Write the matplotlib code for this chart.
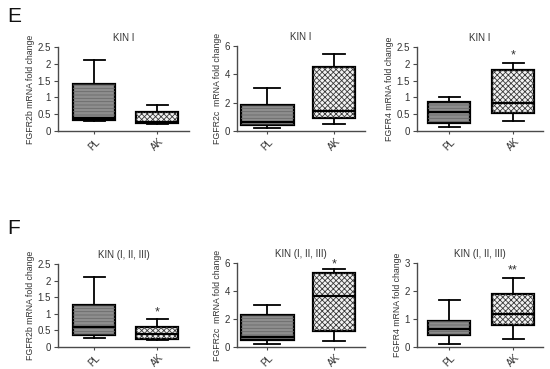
import matplotlib
matplotlib.use("Agg")
import matplotlib.pyplot as plt
from matplotlib.patches import PathPatch

plt.rcParams['font.family'] = ['Liberation Sans', 'DejaVu Sans']
plt.rcParams['hatch.linewidth'] = 0.6

groups = ["PL", "AK"]
titles = ["KIN I", "KIN I", "KIN I", "KIN (I, II, III)", "KIN (I, II, III)", "KIN (I, II, III)"]
ylabels = ["FGFR2b mRNA fold change", "FGFR2c  mRNA fold change", "FGFR4 mRNA fold change",
           "FGFR2b mRNA fold change", "FGFR2c  mRNA fold change", "FGFR4 mRNA fold change"]
ymax = [2.5, 6, 2.5, 2.5, 6, 3]
yticks = [[0, 0.5, 1, 1.5, 2, 2.5], [0, 2, 4, 6], [0, 0.5, 1, 1.5, 2, 2.5],
          [0, 0.5, 1, 1.5, 2, 2.5], [0, 2, 4, 6], [0, 1, 2, 3]]
yticklabels = [["0", "0.5", "1", "1.5", "2", "2.5"], ["0", "2", "4", "6"],
               ["0", "0.5", "1", "1.5", "2", "2.5"], ["0", "0.5", "1", "1.5", "2", "2.5"],
               ["0", "2", "4", "6"], ["0", "1", "2", "3"]]

# five-number summaries: min, q1, median, q3, max  (PL, AK)
pl_stats = [
    [0.30, 0.34, 0.38, 1.40, 2.12],
    [0.23, 0.42, 0.66, 1.83, 3.01],
    [0.13, 0.25, 0.56, 0.86, 1.02],
    [0.28, 0.35, 0.60, 1.26, 2.11],
    [0.19, 0.53, 0.72, 2.28, 3.00],
    [0.11, 0.42, 0.63, 0.94, 1.68],
]
ak_stats = [
    [0.22, 0.25, 0.28, 0.56, 0.76],
    [0.47, 0.94, 1.41, 4.54, 5.41],
    [0.31, 0.55, 0.82, 1.82, 2.03],
    [0.21, 0.25, 0.38, 0.60, 0.85],
    [0.43, 1.15, 3.65, 5.32, 5.57],
    [0.29, 0.78, 1.17, 1.91, 2.46],
]
signif = ["", "", "*", "*", "*", "**"]
signif_y = [0, 0, 2.24, 1.04, 5.9, 2.74]

# layout (figure pixels)
W, H = 550, 369
axes_px = [  # left, right, bottom(y=0), top
    (58, 189, 131, 47), (237, 365, 131, 46), (417, 543, 131, 47),
    (58, 189, 347, 264), (237, 365, 347, 263), (417, 543, 347, 263),
]
centers_px = [(94, 157), (267, 334), (449, 513), (94, 157), (267, 334), (449, 513)]
boxw_px = [(42, 42), (53, 43), (42, 42), (42, 42), (53, 43), (42, 42)]

fig = plt.figure(figsize=(W / 100, H / 100), dpi=100)

spine_c = '#4a4a4a'
for i in range(6):
    l, r, b, t = axes_px[i]
    ax = fig.add_axes([l / W, 1 - b / H, (r - l) / W, (b - t) / H])
    c0, c1 = centers_px[i]
    unit = c1 - c0
    ax.set_xlim((l - c0) / unit, (r - c0) / unit)
    ax.set_ylim(0, ymax[i])
    stats = []
    for s, lab in zip((pl_stats[i], ak_stats[i]), groups):
        stats.append(dict(whislo=s[0], q1=s[1], med=s[2], q3=s[3], whishi=s[4], label=lab))
    widths = [boxw_px[i][0] / unit, boxw_px[i][1] / unit]
    bp = ax.bxp(stats, positions=[0, 1], widths=widths, patch_artist=True, showfliers=False,
                boxprops=dict(linewidth=1.6, edgecolor='black'),
                whiskerprops=dict(linewidth=1.3, color='black'),
                capprops=dict(linewidth=1.3, color='black'),
                medianprops=dict(linewidth=1.6, color='black'),
                capwidths=[w * 0.5 for w in widths])
    pl_box, ak_box = bp['boxes']
    pl_box.set_facecolor('#8e8e8e')
    ak_box.set_facecolor('#f2f2f2')
    ax.add_patch(PathPatch(pl_box.get_path(), facecolor='none', edgecolor='#6a6a6a',
                           hatch='-----', lw=0, zorder=pl_box.get_zorder() + 0.1))
    ax.add_patch(PathPatch(ak_box.get_path(), facecolor='none', edgecolor='#3a3a3a',
                           hatch='xxxxxx', lw=0, zorder=ak_box.get_zorder() + 0.1))
    for m in bp['medians']:
        m.set_zorder(5)

    ax.spines['top'].set_visible(False)
    ax.spines['right'].set_visible(False)
    for sp in ('left', 'bottom'):
        ax.spines[sp].set_color(spine_c)
        ax.spines[sp].set_linewidth(1.0)
    ax.set_yticks(yticks[i])
    ax.set_yticklabels(yticklabels[i])
    ax.set_xticks([0, 1])
    ax.set_xticklabels(groups, rotation=45, ha='center', va='top')
    ax.tick_params(axis='both', labelsize=7, colors=spine_c, length=3, width=0.8, pad=2,
                   labelcolor='#333333')
    ax.tick_params(axis='x', length=2, pad=2)
    ax.set_ylabel(ylabels[i], fontsize=6.3, color='#333333', labelpad=2)
    ax.set_title(titles[i], fontsize=7, color='#333333', pad=4)
    if signif[i]:
        ax.text(1, signif_y[i], signif[i], ha='center', va='center', fontsize=9,
                color='#333333', clip_on=False)

fig.text(7 / W, 1 - 17 / H, "E", fontsize=15, va='center', ha='left', color='#111111')
fig.text(7 / W, 1 - 228 / H, "F", fontsize=15, va='center', ha='left', color='#111111')

fig.savefig("out.png", dpi=100)
